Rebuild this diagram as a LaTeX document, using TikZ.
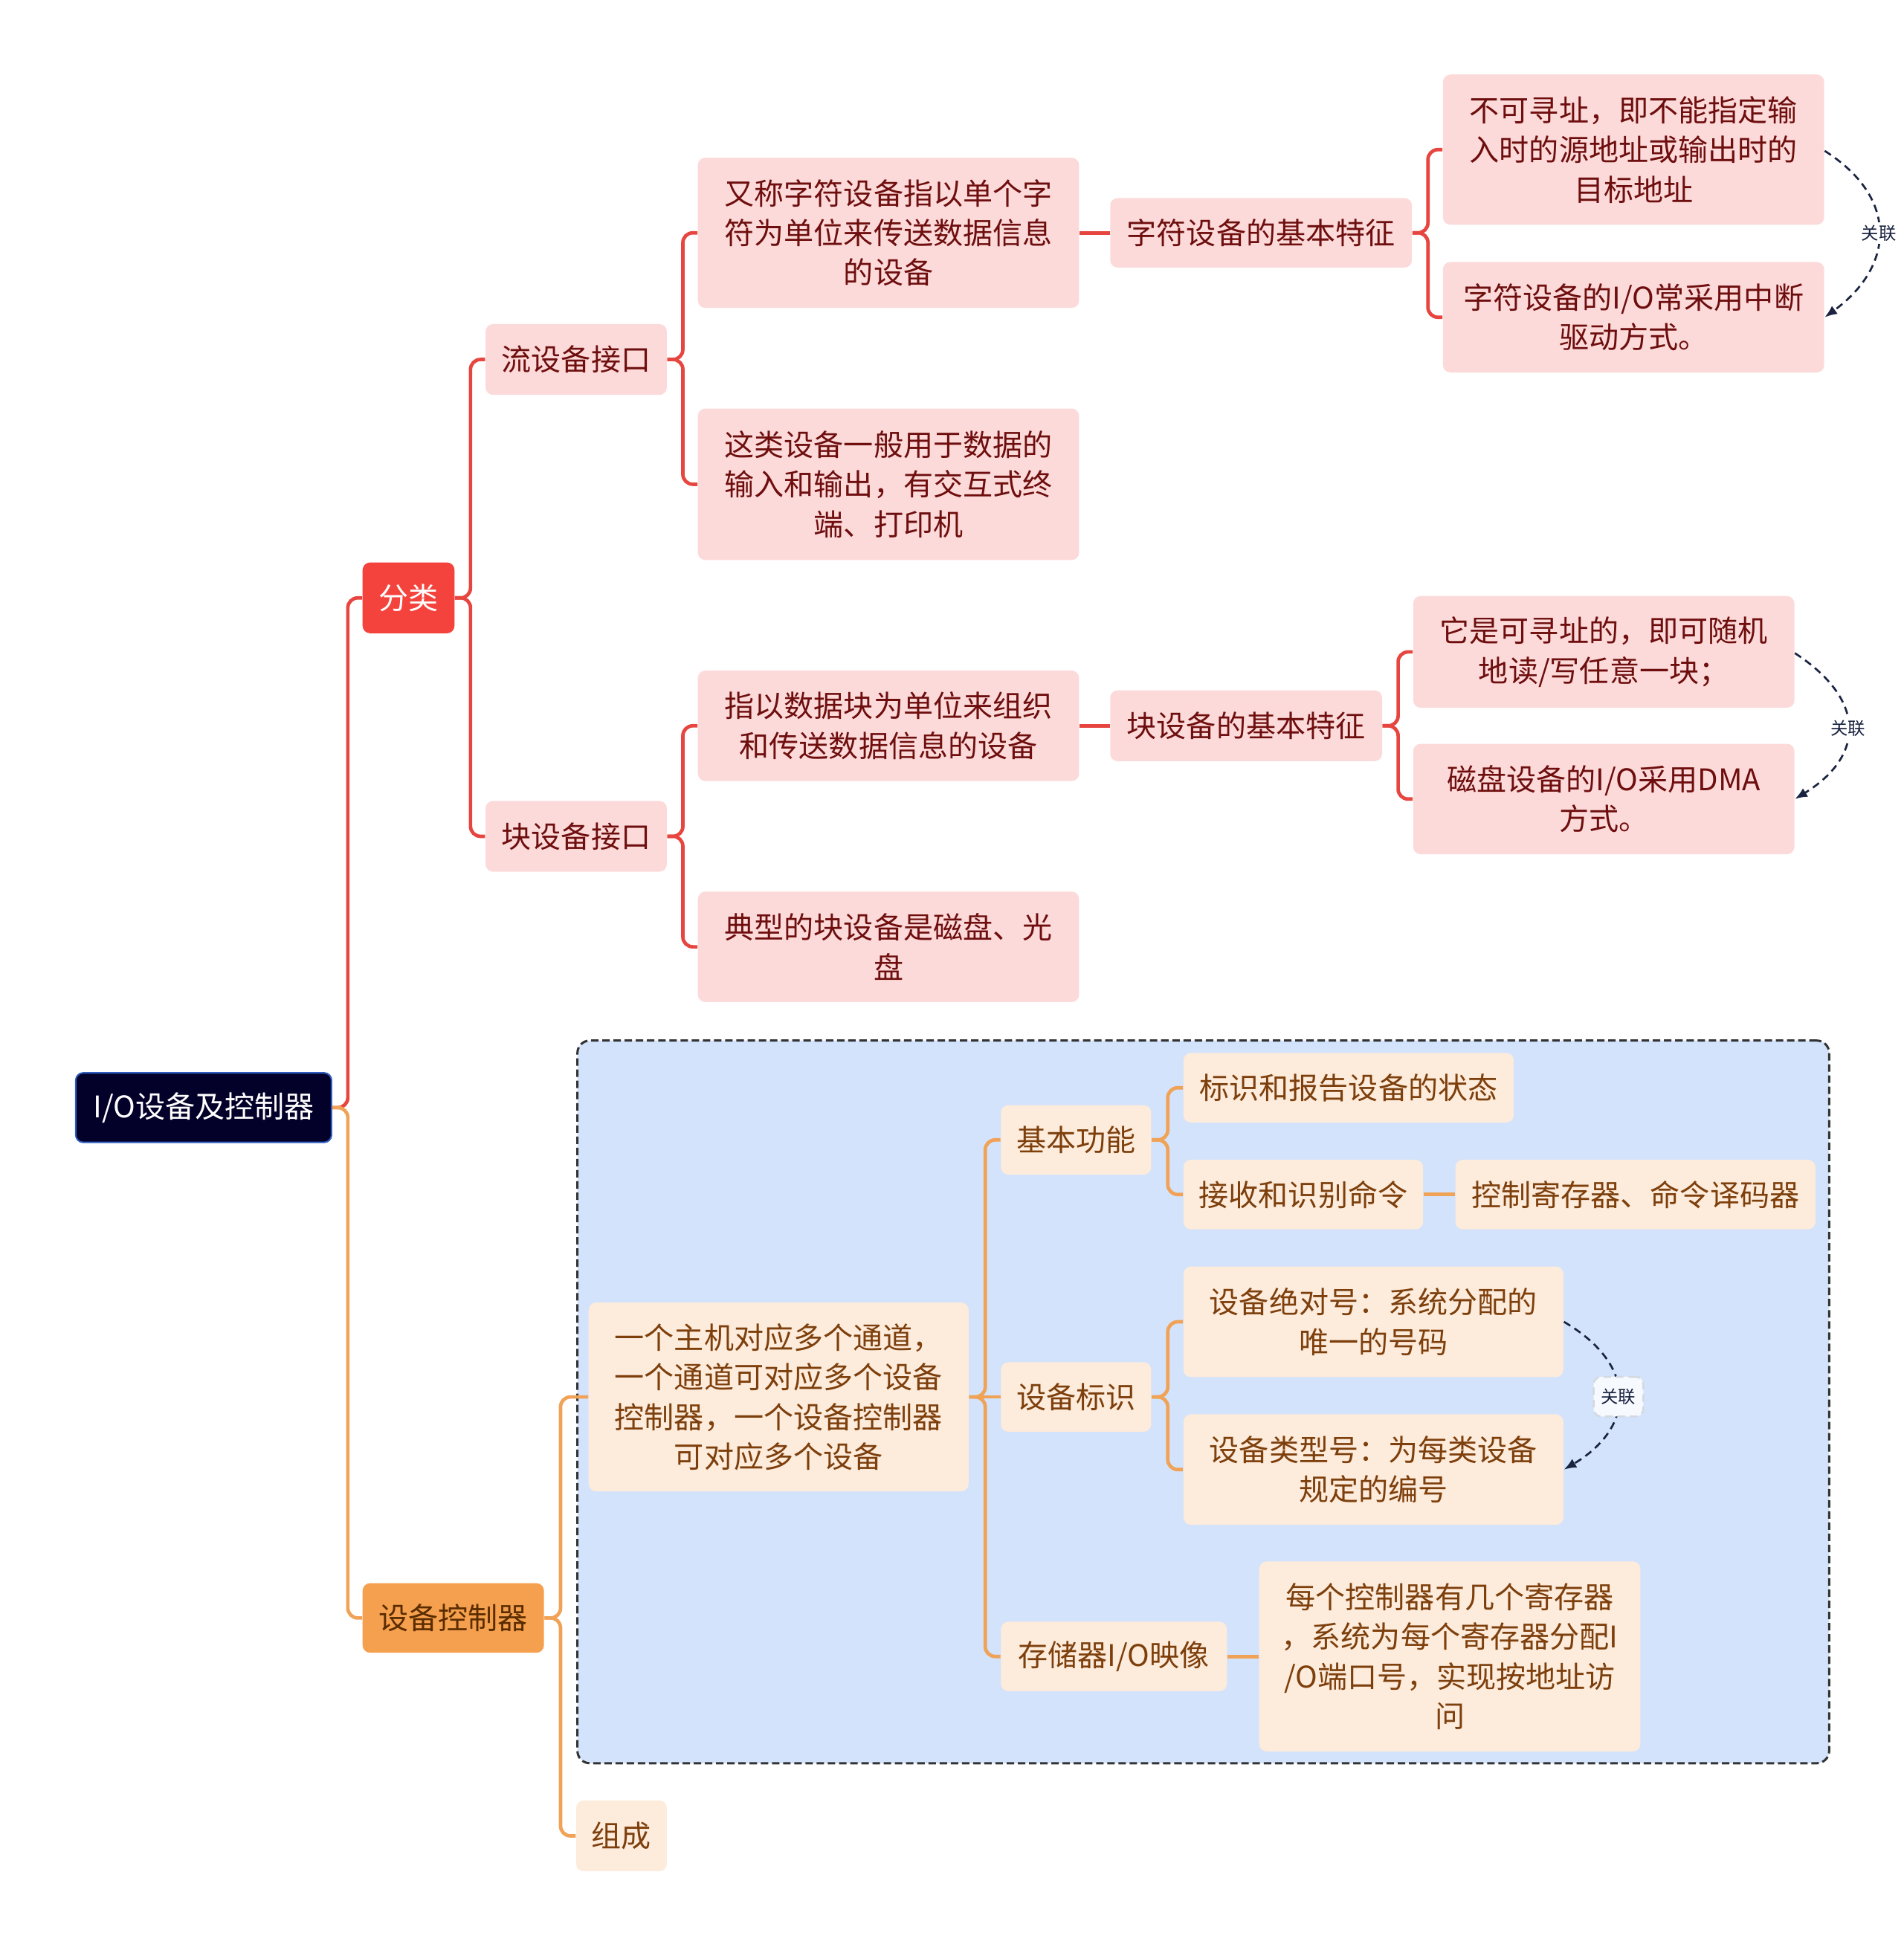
\documentclass[tikz,border=0pt]{standalone}
\usepackage{fontspec}
\setmainfont{Noto Sans CJK SC}
\usetikzlibrary{arrows.meta}
\definecolor{cRoot}{HTML}{03012A}
\definecolor{cRootBorder}{HTML}{2F5FC0}
\definecolor{cRed}{HTML}{F4433C}
\definecolor{cRedLine}{HTML}{E6463F}
\definecolor{cPink}{HTML}{FDDADA}
\definecolor{cRedText}{HTML}{6E0E0E}
\definecolor{cOrange}{HTML}{F5A04E}
\definecolor{cOrLine}{HTML}{F0A257}
\definecolor{cPeach}{HTML}{FDEBDB}
\definecolor{cBrown}{HTML}{7D3F0C}
\definecolor{cDarkBrown}{HTML}{5A2C00}
\definecolor{cBlue}{HTML}{D3E3FC}
\definecolor{cRel}{HTML}{1A2340}
\begin{document}
\begin{tikzpicture}[x=0.5pt,y=-0.5pt,
  box/.style={rounded corners=3pt, inner sep=0pt, align=center, font=\fontsize{12}{16}\selectfont},
  pinkbox/.style={box, fill=cPink, text=cRedText},
  peachbox/.style={box, fill=cPeach, text=cBrown},
  rline/.style={draw=cRedLine, line width=1.4pt, rounded corners=4pt},
  oline/.style={draw=cOrLine, line width=1.4pt, rounded corners=4pt},
  rel/.style={draw=cRel, line width=0.8pt, dash pattern=on 3pt off 2pt, -{Latex[length=5pt,width=4pt]}},
  rellabel/.style={font=\fontsize{7}{8}\selectfont, text=cRel, inner sep=1pt, fill=white}
]
\useasboundingbox (0,0) rectangle (1533,1568);

% boundary
\node[draw=black!80, line width=0.9pt, dash pattern=on 3pt off 1.5pt, fill=cBlue, rounded corners=5pt,
      minimum width=504pt, minimum height=291pt, inner sep=0pt] (bound) at (969,1129) {};

% nodes
\node[box, fill=cRoot, draw=cRootBorder, line width=0.6pt, text=white, minimum width=103pt, minimum height=28pt] (root) at (164,892) {I/O设备及控制器};
\node[box, fill=cRed, text=white, minimum width=37pt, minimum height=28.5pt] (fenlei) at (329,481.5) {分类};
\node[pinkbox, minimum width=73pt, minimum height=28.5pt] (liu) at (464,289.5) {流设备接口};
\node[pinkbox, minimum width=73pt, minimum height=28.5pt] (kuai) at (464,673.5) {块设备接口};
\node[pinkbox, minimum width=153.5pt, minimum height=60.5pt] (n5) at (715.5,187.5) {又称字符设备指以单个字\\符为单位来传送数据信息\\的设备};
\node[pinkbox, minimum width=153.5pt, minimum height=61pt] (n6) at (715.5,390) {这类设备一般用于数据的\\输入和输出，有交互式终\\端、打印机};
\node[pinkbox, minimum width=121.5pt, minimum height=28pt] (n7) at (1015.5,187.5) {字符设备的基本特征};
\node[pinkbox, minimum width=153.5pt, minimum height=60.5pt] (n8) at (1315.5,120.5) {不可寻址，即不能指定输\\入时的源地址或输出时的\\目标地址};
\node[pinkbox, minimum width=153.5pt, minimum height=44.5pt] (n9) at (1315.5,255.5) {字符设备的I/O常采用中断\\驱动方式。};
\node[pinkbox, minimum width=153.5pt, minimum height=44.5pt] (n10) at (715.5,584.5) {指以数据块为单位来组织\\和传送数据信息的设备};
\node[pinkbox, minimum width=153.5pt, minimum height=44.5pt] (n11) at (715.5,762.5) {典型的块设备是磁盘、光\\盘};
\node[pinkbox, minimum width=109.5pt, minimum height=28.5pt] (n12) at (1003.5,584.5) {块设备的基本特征};
\node[pinkbox, minimum width=153.5pt, minimum height=45pt] (n13) at (1291.5,525) {它是可寻址的，即可随机\\地读/写任意一块；};
\node[pinkbox, minimum width=153.5pt, minimum height=44.5pt] (n14) at (1291.5,643.5) {磁盘设备的I/O采用DMA\\方式。};

\node[box, fill=cOrange, text=cDarkBrown, minimum width=73pt, minimum height=28pt] (kzq) at (365,1303) {设备控制器};
\node[peachbox, minimum width=153pt, minimum height=76pt] (n17) at (627,1125) {一个主机对应多个通道，\\一个通道可对应多个设备\\控制器，一个设备控制器\\可对应多个设备};
\node[peachbox, minimum width=36.5pt, minimum height=28.5pt] (zucheng) at (500.5,1478.5) {组成};
\node[peachbox, minimum width=60.5pt, minimum height=28pt] (jbgn) at (866.5,918) {基本功能};
\node[peachbox, minimum width=60.5pt, minimum height=28pt] (sbbs) at (866.5,1125) {设备标识};
\node[peachbox, minimum width=91pt, minimum height=28pt] (ccq) at (897,1334) {存储器I/O映像};
\node[peachbox, minimum width=133pt, minimum height=28pt] (n22) at (1086,876) {标识和报告设备的状态};
\node[peachbox, minimum width=96.5pt, minimum height=28pt] (n23) at (1049.5,962) {接收和识别命令};
\node[peachbox, minimum width=145pt, minimum height=28pt] (n24) at (1317,962) {控制寄存器、命令译码器};
\node[peachbox, minimum width=153pt, minimum height=44.5pt] (n25) at (1106,1064.5) {设备绝对号：系统分配的\\唯一的号码};
\node[peachbox, minimum width=153pt, minimum height=44.5pt] (n26) at (1106,1183.5) {设备类型号：为每类设备\\规定的编号};
\node[peachbox, minimum width=153.5pt, minimum height=76.5pt] (n27) at (1167.5,1334) {每个控制器有几个寄存器\\，系统为每个寄存器分配I\\/O端口号，实现按地址访\\问};

% connectors (red branch)
\draw[rline] (root.east) -- ++(12.5,0) |- (fenlei.west);
\draw[rline] (fenlei.east) -- ++(12.5,0) |- (liu.west);
\draw[rline] (fenlei.east) -- ++(12.5,0) |- (kuai.west);
\draw[rline] (liu.east) -- ++(12.5,0) |- (n5.west);
\draw[rline] (liu.east) -- ++(12.5,0) |- (n6.west);
\draw[rline] (n5.east) -- (n7.west);
\draw[rline] (n7.east) -- ++(12.5,0) |- (n8.west);
\draw[rline] (n7.east) -- ++(12.5,0) |- (n9.west);
\draw[rline] (kuai.east) -- ++(12.5,0) |- (n10.west);
\draw[rline] (kuai.east) -- ++(12.5,0) |- (n11.west);
\draw[rline] (n10.east) -- (n12.west);
\draw[rline] (n12.east) -- ++(12.5,0) |- (n13.west);
\draw[rline] (n12.east) -- ++(12.5,0) |- (n14.west);

% connectors (orange branch)
\draw[oline] (root.east) -- ++(12.5,0) |- (kzq.west);
\draw[oline] (kzq.east) -- ++(13,0) |- (n17.west);
\draw[oline] (kzq.east) -- ++(13,0) |- (zucheng.west);
\draw[oline] (n17.east) -- ++(13,0) |- (jbgn.west);
\draw[oline] (n17.east) -- (sbbs.west);
\draw[oline] (n17.east) -- ++(13,0) |- (ccq.west);
\draw[oline] (jbgn.east) -- ++(13,0) |- (n22.west);
\draw[oline] (jbgn.east) -- ++(13,0) |- (n23.west);
\draw[oline] (n23.east) -- (n24.west);
\draw[oline] (sbbs.east) -- ++(13,0) |- (n25.west);
\draw[oline] (sbbs.east) -- ++(13,0) |- (n26.west);
\draw[oline] (ccq.east) -- (n27.west);

% relations
\draw[rel] ([yshift=-0.5pt]n8.east) .. controls (1530,160) and (1525,215) .. (n9.east)
  node[pos=0.5, rellabel] {关联};
\draw[rel] ([yshift=-0.5pt]n13.east) .. controls (1505,565) and (1500,610) .. (n14.east)
  node[pos=0.5, rellabel] {关联};
\draw[rel] (n25.east) .. controls (1320,1100) and (1316,1150) .. (n26.east)
  node[pos=0.5, rellabel, fill=white!80!cBlue, draw=cBlue!70!black!40, rounded corners=3pt, minimum width=20pt, minimum height=16pt] {关联};
\end{tikzpicture}
\end{document}
